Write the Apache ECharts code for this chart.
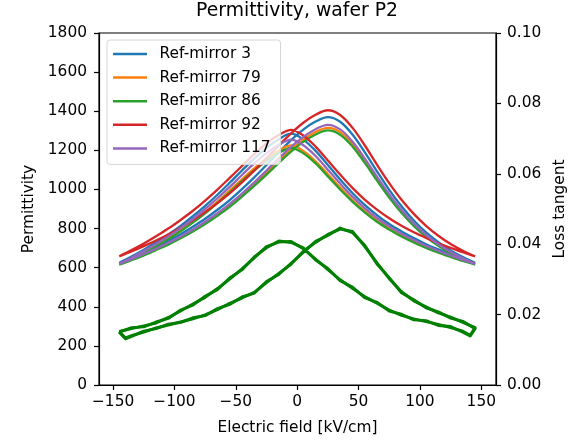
<!DOCTYPE html>
<html>
<head>
<meta charset="utf-8">
<script src="https://cdn.jsdelivr.net/npm/echarts@6/dist/echarts.min.js"></script>
<style>
  html, body { margin: 0; padding: 0; background: #fff; }
  #chart { width: 582px; height: 440px; }
</style>
</head>
<body>
<div id="chart"></div>
<script>
// Electric field sweep points [kV/cm]
const field = [-145, -135, -125, -115, -105, -95, -85, -75, -65, -55, -45, -35, -25, -15, -5,
               5, 15, 25, 35, 45, 55, 65, 75, 85, 95, 105, 115, 125, 135, 145];

// Permittivity, rising-field branch (listed at ascending field)
const mirror3Up   = [625, 650, 677, 706, 737, 771, 809, 850, 896, 946, 1002, 1062, 1125, 1190, 1252, 1306, 1347, 1370, 1346, 1281, 1191, 1093, 998, 914, 841, 780, 730, 688, 654, 625];
const mirror79Up  = [618, 641, 667, 694, 723, 755, 790, 829, 871, 919, 971, 1027, 1086, 1147, 1205, 1255, 1294, 1315, 1293, 1232, 1148, 1055, 967, 888, 820, 763, 716, 677, 645, 618];
const mirror86Up  = [615, 638, 663, 690, 718, 750, 785, 823, 865, 911, 963, 1018, 1076, 1136, 1193, 1243, 1281, 1302, 1280, 1220, 1137, 1046, 959, 881, 814, 758, 712, 673, 641, 615];
const mirror92Up  = [658, 683, 710, 739, 770, 805, 842, 884, 930, 980, 1036, 1096, 1160, 1225, 1287, 1341, 1382, 1405, 1381, 1316, 1226, 1127, 1032, 947, 875, 814, 763, 721, 687, 658];
const mirror117Up = [620, 644, 670, 697, 727, 759, 795, 835, 878, 926, 979, 1036, 1097, 1159, 1218, 1269, 1308, 1330, 1307, 1245, 1159, 1066, 976, 895, 826, 768, 720, 680, 647, 620];

// Permittivity, falling-field branch (also listed at ascending field)
const mirror3Down   = [625, 657, 692, 730, 770, 814, 863, 916, 973, 1034, 1097, 1158, 1213, 1257, 1285, 1255, 1197, 1125, 1051, 982, 921, 869, 823, 785, 751, 720, 694, 669, 646, 625];
const mirror79Down  = [618, 648, 680, 714, 752, 792, 837, 885, 938, 994, 1052, 1108, 1159, 1199, 1225, 1197, 1144, 1078, 1010, 946, 890, 842, 801, 765, 733, 706, 681, 658, 637, 618];
const mirror86Down  = [615, 644, 676, 710, 746, 786, 830, 878, 930, 985, 1042, 1097, 1147, 1187, 1212, 1185, 1133, 1067, 1000, 938, 883, 835, 795, 759, 729, 701, 677, 655, 634, 615];
const mirror92Down  = [658, 690, 724, 761, 800, 844, 891, 943, 999, 1059, 1120, 1181, 1235, 1278, 1305, 1276, 1219, 1148, 1076, 1008, 948, 897, 853, 814, 781, 752, 725, 701, 679, 658];
const mirror117Down = [620, 651, 685, 721, 760, 802, 849, 900, 955, 1013, 1074, 1133, 1186, 1228, 1255, 1226, 1171, 1101, 1030, 963, 905, 854, 811, 774, 741, 712, 686, 662, 640, 620];

// Loss tangent: two recorded cycles, each a rising sweep followed by a falling sweep
const lossFieldUp = [-145, -140, -135, -125, -115, -105, -95, -85, -75, -65, -55, -45, -35, -25, -15, -5,
                     5, 15, 25, 35, 45, 55, 65, 75, 85, 95, 105, 115, 125, 135, 145];
const lossFieldDown = [145, 141, 135, 125, 115, 105, 95, 85, 75, 65, 55, 45, 35, 25, 15, 5,
                       -5, -15, -25, -35, -45, -55, -65, -75, -85, -95, -105, -115, -125, -135, -145];
const lossUp1 = [0.0152, 0.0134, 0.0140, 0.0150, 0.0162, 0.0170, 0.0179, 0.0188, 0.0199, 0.0214, 0.0232, 0.0247, 0.0263, 0.0291, 0.0317, 0.0343,
                 0.0380, 0.0405, 0.0428, 0.0443, 0.0436, 0.0394, 0.0347, 0.0302, 0.0265, 0.0239, 0.0222, 0.0205, 0.0193, 0.0178, 0.0163];
const lossDown1 = [0.0163, 0.0141, 0.0153, 0.0163, 0.0172, 0.0180, 0.0188, 0.0198, 0.0213, 0.0232, 0.0251, 0.0275, 0.0299, 0.0328, 0.0358, 0.0387,
                   0.0408, 0.0406, 0.0393, 0.0361, 0.0330, 0.0301, 0.0274, 0.0249, 0.0230, 0.0210, 0.0192, 0.0176, 0.0168, 0.0160, 0.0152];
const lossUp2 = [0.0150, 0.0131, 0.0138, 0.0153, 0.0160, 0.0173, 0.0178, 0.0191, 0.0197, 0.0217, 0.0229, 0.0250, 0.0261, 0.0294, 0.0314, 0.0346,
                 0.0377, 0.0408, 0.0425, 0.0446, 0.0433, 0.0397, 0.0344, 0.0305, 0.0262, 0.0242, 0.0219, 0.0208, 0.0190, 0.0181, 0.0160];
const lossDown2 = [0.0160, 0.0139, 0.0150, 0.0166, 0.0169, 0.0183, 0.0185, 0.0201, 0.0210, 0.0235, 0.0248, 0.0278, 0.0296, 0.0331, 0.0355, 0.0390,
                   0.0405, 0.0409, 0.0390, 0.0364, 0.0327, 0.0304, 0.0271, 0.0252, 0.0227, 0.0213, 0.0189, 0.0179, 0.0165, 0.0163, 0.0150];

const fieldTicks = [-150, -100, -50, 0, 50, 100, 150];

const samples = [
  { name: 'Ref-mirror 3',   color: '#1f77b4', up: mirror3Up,   down: mirror3Down },
  { name: 'Ref-mirror 79',  color: '#ff7f0e', up: mirror79Up,  down: mirror79Down },
  { name: 'Ref-mirror 86',  color: '#2ca02c', up: mirror86Up,  down: mirror86Down },
  { name: 'Ref-mirror 92',  color: '#d62728', up: mirror92Up,  down: mirror92Down },
  { name: 'Ref-mirror 117', color: '#9467bd', up: mirror117Up, down: mirror117Down }
];

// One closed butterfly loop per sample: rising branch, then falling branch back
function loop(up, down) {
  const rising = up.map((v, i) => [field[i], v]);
  const falling = down.map((v, i) => [field[i], v]).reverse();
  return rising.concat(falling);
}

function lossLoop(up, down) {
  return lossFieldUp.map((e, i) => [e, up[i]])
    .concat(lossFieldDown.map((e, i) => [e, down[i]]));
}

const FONT = 'DejaVu Sans';
const fs = 15.4;
const black = '#000';
const minus = v => (v < 0 ? '\u2212' + Math.abs(v) : String(v));

const series = samples.map(s => ({
  name: s.name,
  type: 'line',
  data: loop(s.up, s.down),
  showSymbol: false,
  symbol: 'none',
  smooth: 0.35,
  color: s.color,
  lineStyle: { width: 2.3, color: s.color },
  z: 2
}));

[[lossUp1, lossDown1], [lossUp2, lossDown2]].forEach(([u, d]) => {
  series.push({
    name: 'Loss tangent',
    type: 'line',
    yAxisIndex: 1,
    data: lossLoop(u, d),
    showSymbol: false,
    symbol: 'none',
    color: '#008000',
    lineStyle: { width: 2.9, color: '#008000', join: 'round' },
    z: 3
  });
});

const chart = echarts.init(document.getElementById('chart'), null, { renderer: 'canvas' });
chart.setOption({
  animation: false,
  backgroundColor: '#fff',
  textStyle: { fontFamily: FONT, color: black },
  title: {
    text: 'Permittivity, wafer P2',
    left: 297,
    textAlign: 'center',
    top: 2,
    padding: 0,
    textStyle: { fontFamily: FONT, fontSize: 18.8, fontWeight: 'normal', color: black }
  },
  legend: {
    data: samples.map(s => s.name),
    orient: 'vertical',
    left: 107,
    top: 40,
    padding: [6, 10, 8, 6],
    itemWidth: 34,
    itemHeight: 2.5,
    itemGap: 7.6,
    icon: 'rect',
    borderColor: '#d6d6d6',
    borderWidth: 1,
    borderRadius: 3,
    backgroundColor: 'rgba(255,255,255,0.8)',
    selectedMode: false,
    textStyle: { fontFamily: FONT, fontSize: fs, color: black, lineHeight: 16, padding: [0, 0, 0, 7.6] }
  },
  grid: {
    left: 99, right: 86, top: 33, bottom: 52,
    show: true, borderColor: black, borderWidth: 1.2, backgroundColor: 'transparent'
  },
  xAxis: {
    type: 'value',
    min: -161.5,
    max: 162,
    name: 'Electric field [kV/cm]',
    nameLocation: 'middle',
    nameGap: 35,
    nameTextStyle: { fontFamily: FONT, fontSize: fs, color: black },
    axisLine: { show: true, onZero: false, lineStyle: { color: black, width: 1.2 } },
    axisTick: { show: true, customValues: fieldTicks, length: 5, lineStyle: { color: black, width: 1.2 } },
    axisLabel: { customValues: fieldTicks, formatter: minus, margin: 9, fontFamily: FONT, fontSize: fs, color: black },
    splitLine: { show: false }
  },
  yAxis: [
    {
      type: 'value',
      position: 'left',
      min: 0, max: 1800, interval: 200,
      name: 'Permittivity',
      nameLocation: 'middle',
      nameGap: 58,
      nameTextStyle: { fontFamily: FONT, fontSize: fs, color: black },
      axisLine: { show: true, onZero: false, lineStyle: { color: black, width: 1.2 } },
      axisTick: { show: true, length: 5, lineStyle: { color: black, width: 1.2 } },
      axisLabel: { margin: 12, formatter: v => String(v), fontFamily: FONT, fontSize: fs, color: black },
      splitLine: { show: false }
    },
    {
      type: 'value',
      position: 'right',
      min: 0, max: 0.1, interval: 0.02,
      name: 'Loss tangent',
      nameLocation: 'middle',
      nameGap: 55,
      nameTextStyle: { fontFamily: FONT, fontSize: fs, color: black },
      axisLine: { show: true, onZero: false, lineStyle: { color: black, width: 1.2 } },
      axisTick: { show: true, length: 5, lineStyle: { color: black, width: 1.2 } },
      axisLabel: { margin: 11, formatter: v => v.toFixed(2), fontFamily: FONT, fontSize: fs, color: black },
      splitLine: { show: false }
    }
  ],
  series: series
});
</script>
</body>
</html>
